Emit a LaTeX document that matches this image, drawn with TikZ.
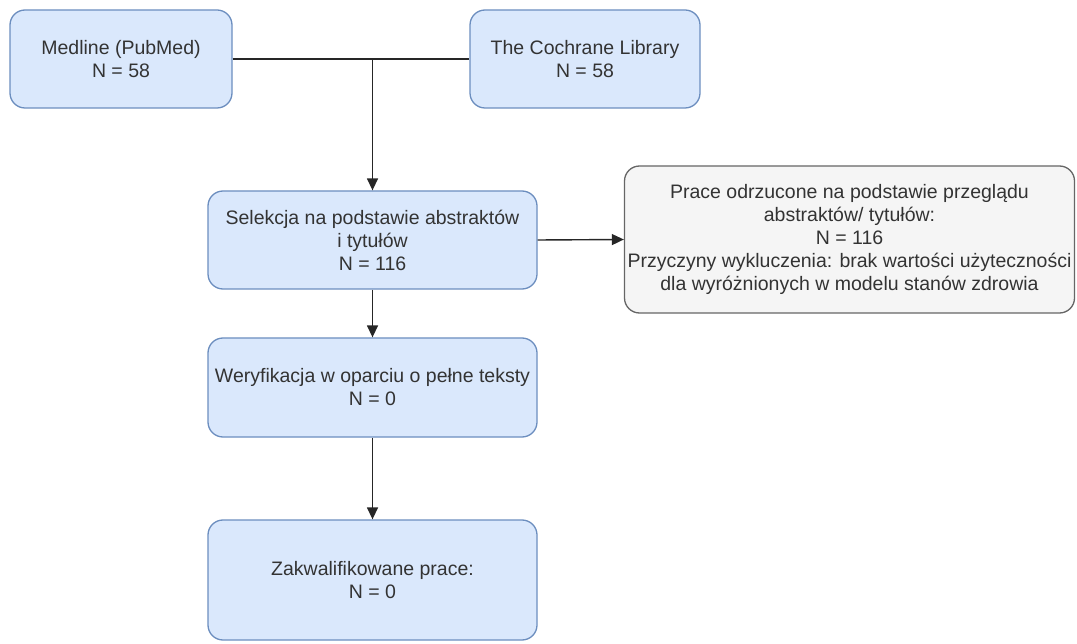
\documentclass[tikz,border=0pt]{standalone}
\usepackage{fontspec}
\setmainfont{Liberation Sans}
\usetikzlibrary{arrows.meta}
\definecolor{bluefill}{HTML}{DAE8FC}
\definecolor{blueline}{HTML}{6C8EBF}
\definecolor{greyfill}{HTML}{F5F5F5}
\definecolor{greyline}{HTML}{666666}
\definecolor{txt}{HTML}{333333}
\tikzset{
  box/.style={draw=blueline, fill=bluefill, line width=1.3pt, rounded corners=15pt,
    align=center, text=txt, inner sep=0pt,
    font=\fontsize{19.5}{23}\selectfont},
  greybox/.style={box, draw=greyline, fill=greyfill},
  conn/.style={line width=1.4pt, draw=black!85},
  arr/.style={conn, -{Triangle[length=12pt,width=11pt]}}
}
\begin{document}
\begin{tikzpicture}[x=1pt,y=-1pt]
\useasboundingbox (0,0) rectangle (1077,644);
\node[box, minimum width=222pt, minimum height=98pt] (med) at (121,59) {Medline (PubMed)\\N = 58};
\node[box, minimum width=230pt, minimum height=98pt] (coch) at (585,59) {The Cochrane Library\\N = 58};
\node[box, minimum width=329pt, minimum height=98pt] (sel) at (372.5,240) {Selekcja na podstawie abstraktów\\i tytułów\\N = 116};
\node[box, minimum width=329pt, minimum height=99pt] (wer) at (372.5,387.5) {Weryfikacja w oparciu o pełne teksty\\N = 0};
\node[box, minimum width=329pt, minimum height=120pt] (zak) at (372.5,580) {Zakwalifikowane prace:\\N = 0};
\node[greybox, minimum width=450pt, minimum height=147pt] (odr) at (849.5,239.5) {Prace odrzucone na podstawie przeglądu\\abstraktów/ tytułów:\\N = 116\\Przyczyny wykluczenia: brak wartości użyteczności\\dla wyróżnionych w modelu stanów zdrowia};
\draw[conn] (med.east) -- (coch.west);
\coordinate (j) at (sel.north |- med.east);
\draw[arr] (j) -- (sel.north);
\draw[arr] (sel.east) -- (odr.west);
\draw[arr] (sel.south) -- (wer.north);
\draw[arr] (wer.south) -- (zak.north);
\end{tikzpicture}
\end{document}
